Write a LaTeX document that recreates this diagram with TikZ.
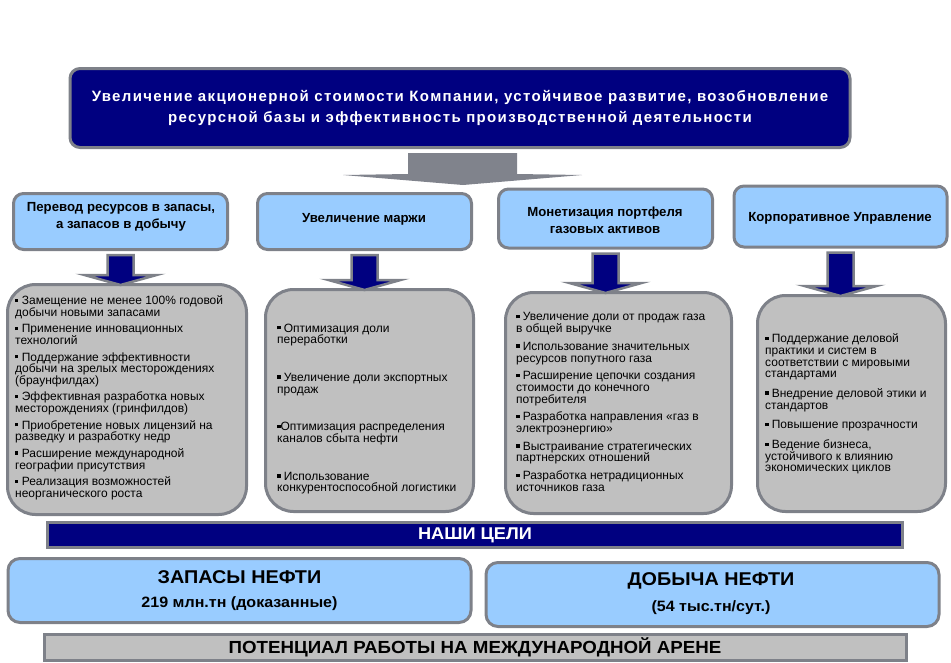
\documentclass[tikz,border=0pt]{standalone}
\usepackage{fontspec}
\setmainfont{Liberation Sans}
\newfontfamily\topfont[LetterSpace=9]{Liberation Sans}
\newfontfamily\bodyfont{Liberation Sans}
\newfontfamily\widefont[FakeStretch=1.07]{Liberation Sans}
\usetikzlibrary{calc}
\definecolor{navy}{HTML}{000080}
\definecolor{lblue}{HTML}{99CCFF}
\definecolor{lgray}{HTML}{C0C0C0}
\definecolor{bgray}{HTML}{7E8189}
\definecolor{agray}{HTML}{80838C}
\newcommand\bl{\rule[2.7pt]{3.3pt}{3.3pt}\ }
\newcommand\sarrow[2]{%
  \path (#1.south) ++(0,4) coordinate (sa-top);
  \path (#1.south |- #2.north) ++(0,2) coordinate (sa-tip);
  \filldraw[smallarr] ($(sa-top)+(-13,0)$) -- ($(sa-top)+(13,0)$) -- ($(sa-tip)+(13,-10)$) -- ($(sa-tip)+(36,-10)$) -- (sa-tip) -- ($(sa-tip)+(-36,-10)$) -- ($(sa-tip)+(-13,-10)$) -- cycle;
}
\begin{document}
\begin{tikzpicture}[x=1pt,y=-1pt,
  topbox/.style={draw=bgray, line width=3pt, fill=navy, rounded corners=10pt, inner sep=0pt},
  head/.style={draw=bgray, line width=3pt, fill=lblue, rounded corners=10pt, inner sep=0pt},
  headtext/.style={inner sep=0pt, align=center, font=\fontsize{13.2}{17}\selectfont\bfseries},
  graybox/.style={draw=bgray, line width=3pt, fill=lgray, rounded corners=28pt, inner sep=0pt},
  bar/.style={draw=bgray, line width=3pt, inner sep=0pt},
  goal/.style={draw=bgray, line width=3pt, fill=lblue, rounded corners=12pt, inner sep=0pt},
  body/.style={anchor=north west, inner sep=0pt, align=left, font=\bodyfont\fontsize{12}{11.7}\selectfont},
  smallarr/.style={draw=bgray, line width=2.5pt, fill=navy, line join=miter},
  bigarr/.style={fill=agray},
  ]
\useasboundingbox (0,0) rectangle (951,662);
% top box
\node[topbox, minimum width=780pt, minimum height=79pt] (top) at (460,108) {};
\node[inner sep=0pt, align=center, text=white, font=\topfont\fontsize{15}{21}\selectfont\bfseries] (toptext) at (top.center)
  {Увеличение акционерной стоимости Компании, устойчивое развитие, возобновление\\ресурсной базы и эффективность производственной деятельности};
% big arrow
\fill[bigarr] ($(top.south)+(-52,4)$) -- ($(top.south)+(57,4)$) -- ($(top.south)+(57,25)$) -- ($(top.south)+(122,26)$) -- ($(top.south)+(3,36)$) -- ($(top.south)+(-117,26)$) -- ($(top.south)+(-52,25)$) -- cycle;
% headers
\node[head, minimum width=214pt, minimum height=56pt] (h1) at (120.5,221.5) {};
\node[headtext] (h1t) at (121,216.5) {Перевод ресурсов в запасы,\\а запасов в добычу};
\node[head, minimum width=214pt, minimum height=56pt] (h2) at (364.5,221.5) {};
\node[headtext] (h2t) at (364,219) {Увеличение маржи};
\node[head, minimum width=214pt, minimum height=59pt] (h3) at (605.5,218.5) {};
\node[headtext] (h3t) at (605,220) {Монетизация портфеля\\газовых активов};
\node[head, minimum width=213pt, minimum height=61pt] (h4) at (840.5,216.5) {};
\node[headtext] (h4t) at (840,218) {Корпоративное Управление};
% gray boxes
\node[graybox, minimum width=239pt, minimum height=230pt, anchor=north west] (g1) at (6,283) {};
\node[graybox, minimum width=208pt, minimum height=222pt, anchor=north west] (g2) at (264,288) {};
\node[graybox, minimum width=226pt, minimum height=221pt, anchor=north west] (g3) at (504,291) {};
\node[graybox, minimum width=188pt, minimum height=216pt, anchor=north west] (g4) at (756,294) {};
% small arrows
\sarrow{h1}{g1}
\sarrow{h2}{g2}
\sarrow{h3}{g3}
\sarrow{h4}{g4}
% body texts
\node[body] (t1) at (15,295.5) {\bl Замещение не менее 100\% годовой\\добычи новыми запасами\\[4.8pt]
\bl Применение инновационных\\технологий\\[4.8pt]
\bl Поддержание эффективности\\добычи на зрелых месторождениях\\(браунфилдах)\\[4.8pt]
\bl Эффективная разработка новых\\месторождениях (гринфилдов)\\[4.8pt]
\bl Приобретение новых лицензий на\\разведку и разработку недр\\[4.8pt]
\bl Расширение международной\\географии присутствия\\[4.8pt]
\bl Реализация возможностей\\неорганического роста};
\node[body] (t2) at (277,323.5) {\bl Оптимизация доли\\переработки\\[26pt]
\bl Увеличение доли экспортных\\продаж\\[26pt]
\rule[2.7pt]{3.3pt}{3.3pt}Оптимизация распределения\\каналов сбыта нефти\\[26pt]
\bl Использование\\конкурентоспособной логистики};
\node[body] (t3) at (516,312.5) {\bl Увеличение доли от продаж газа\\в общей выручке\\[6pt]
\bl Использование значительных\\ресурсов попутного газа\\[6pt]
\bl Расширение цепочки создания\\стоимости до конечного\\потребителя\\[6pt]
\bl Разработка направления «газ в\\электроэнергию»\\[6pt]
\bl Выстраивание стратегических\\партнерских отношений\\[6pt]
\bl Разработка нетрадиционных\\источников газа};
\node[body] (t4) at (765,333.5) {\bl Поддержание деловой\\практики и систем в\\соответствии с мировыми\\стандартами\\[8pt]
\bl Внедрение деловой этики и\\стандартов\\[8pt]
\bl Повышение прозрачности\\[8pt]
\bl Ведение бизнеса,\\устойчивого к влиянию\\экономических циклов};
% goals bar
\node[bar, fill=navy, minimum width=855pt, minimum height=25pt] (goals) at (475,535) {};
\node[inner sep=0pt, text=white, font=\widefont\fontsize{17}{20}\selectfont\bfseries] (goalstext) at (goals.center) {НАШИ ЦЕЛИ};
% goal boxes
\node[goal, minimum width=463pt, minimum height=64pt] (res) at (239.5,590.5) {};
\node[inner sep=0pt, font=\widefont\fontsize{18.5}{21}\selectfont\bfseries] (restitle) at (239.5,577) {ЗАПАСЫ НЕФТИ};
\node[inner sep=0pt, font=\widefont\fontsize{15}{18}\selectfont\bfseries] (resval) at (239.5,604) {219 млн.тн (доказанные)};
\node[goal, minimum width=453pt, minimum height=64pt] (prod) at (712.5,594.5) {};
\node[inner sep=0pt, font=\widefont\fontsize{18.5}{21}\selectfont\bfseries] (prodtitle) at (711,581) {ДОБЫЧА НЕФТИ};
\node[inner sep=0pt, font=\widefont\fontsize{15}{18}\selectfont\bfseries] (prodval) at (711,608) {(54 тыс.тн/сут.)};
% bottom bar
\node[bar, fill=lgray, minimum width=862pt, minimum height=26pt] (pot) at (475,647) {};
\node[inner sep=0pt, font=\widefont\fontsize{17.5}{20}\selectfont\bfseries] (pottext) at (pot.center) {ПОТЕНЦИАЛ РАБОТЫ НА МЕЖДУНАРОДНОЙ АРЕНЕ};
\end{tikzpicture}
\end{document}
